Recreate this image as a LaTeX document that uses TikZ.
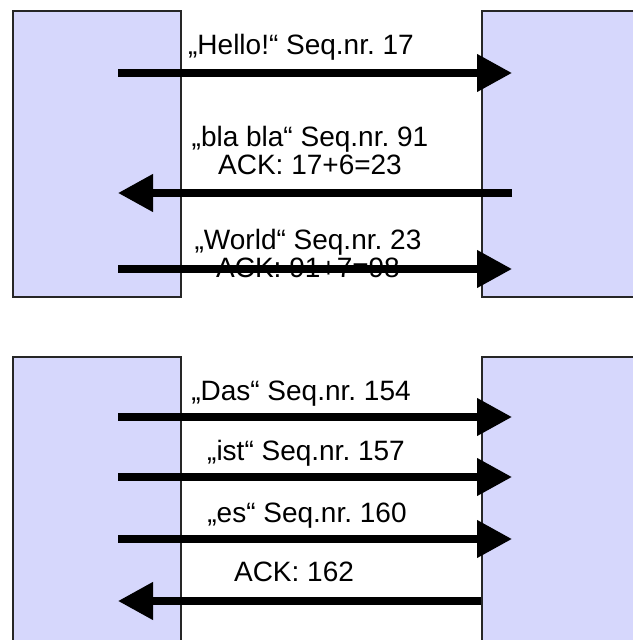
\documentclass[tikz,border=0pt]{standalone}
\usepackage{fontspec}
\setmainfont{Liberation Sans}
\usetikzlibrary{arrows.meta,positioning}
\definecolor{hostfill}{RGB}{214,215,252}
\frenchspacing

\begin{document}
\begin{tikzpicture}[x=0.5pt, y=-0.5pt,
            host/.style = {draw=black!85, line width=1pt, fill=hostfill, anchor=north west, inner sep=0pt},
            msg/.style = {line width=3.75pt, -{Triangle[length=17.5pt, width=18pt]}},
            lbl/.style = {anchor=base, align=center, inner sep=0pt, font=\fontsize{14}{14}\selectfont},
        ]
        \useasboundingbox (0,0) rectangle (632,640);

        % oben: Hello / bla bla / World
        \node[host, minimum width=84pt, minimum height=143pt] (linksA) at (12,10) {};
        \node[host, minimum width=100pt, minimum height=143pt] (rechtsA) at (481,10) {};

        \node[lbl] (hello) at (301,55) {„Hello!“ Seq.nr. 17};
        \node[lbl] (bla) at (310,175) {„bla bla“ Seq.nr. 91\\ACK: 17+6=23};
        \node[lbl] (world) at (308,278) {„World“ Seq.nr. 23\\ACK: 91+7=98};

        \coordinate (a1) at (118,73);  \coordinate (b1) at (512,73);
        \coordinate (a2) at (118,193); \coordinate (b2) at (512,193);
        \coordinate (a3) at (118,269); \coordinate (b3) at (512,269);

        \draw[msg] (a1) -- (b1);
        \draw[msg] (b2) -- (a2);
        \draw[msg] (a3) -- (b3);

        % unten: Das / ist / es / ACK
        \node[host, minimum width=84pt, minimum height=150pt] (linksB) at (12,356) {};
        \node[host, minimum width=100pt, minimum height=150pt] (rechtsB) at (481,356) {};

        \node[lbl] (das) at (301,400) {„Das“ Seq.nr. 154};
        \node[lbl] (ist) at (306,460) {„ist“ Seq.nr. 157};
        \node[lbl] (es) at (307,522) {„es“ Seq.nr. 160};
        \node[lbl] (ack) at (294,581) {ACK: 162};

        \foreach \y [count=\i] in {417,477,539}
            {
                \coordinate (c\i) at (118,\y);
                \coordinate (d\i) at (512,\y);
                \draw[msg] (c\i) -- (d\i);
            }
        \coordinate (c4) at (118,601);
        \draw[msg] (rechtsB.west |- c4) -- (c4);
    \end{tikzpicture}
\end{document}
